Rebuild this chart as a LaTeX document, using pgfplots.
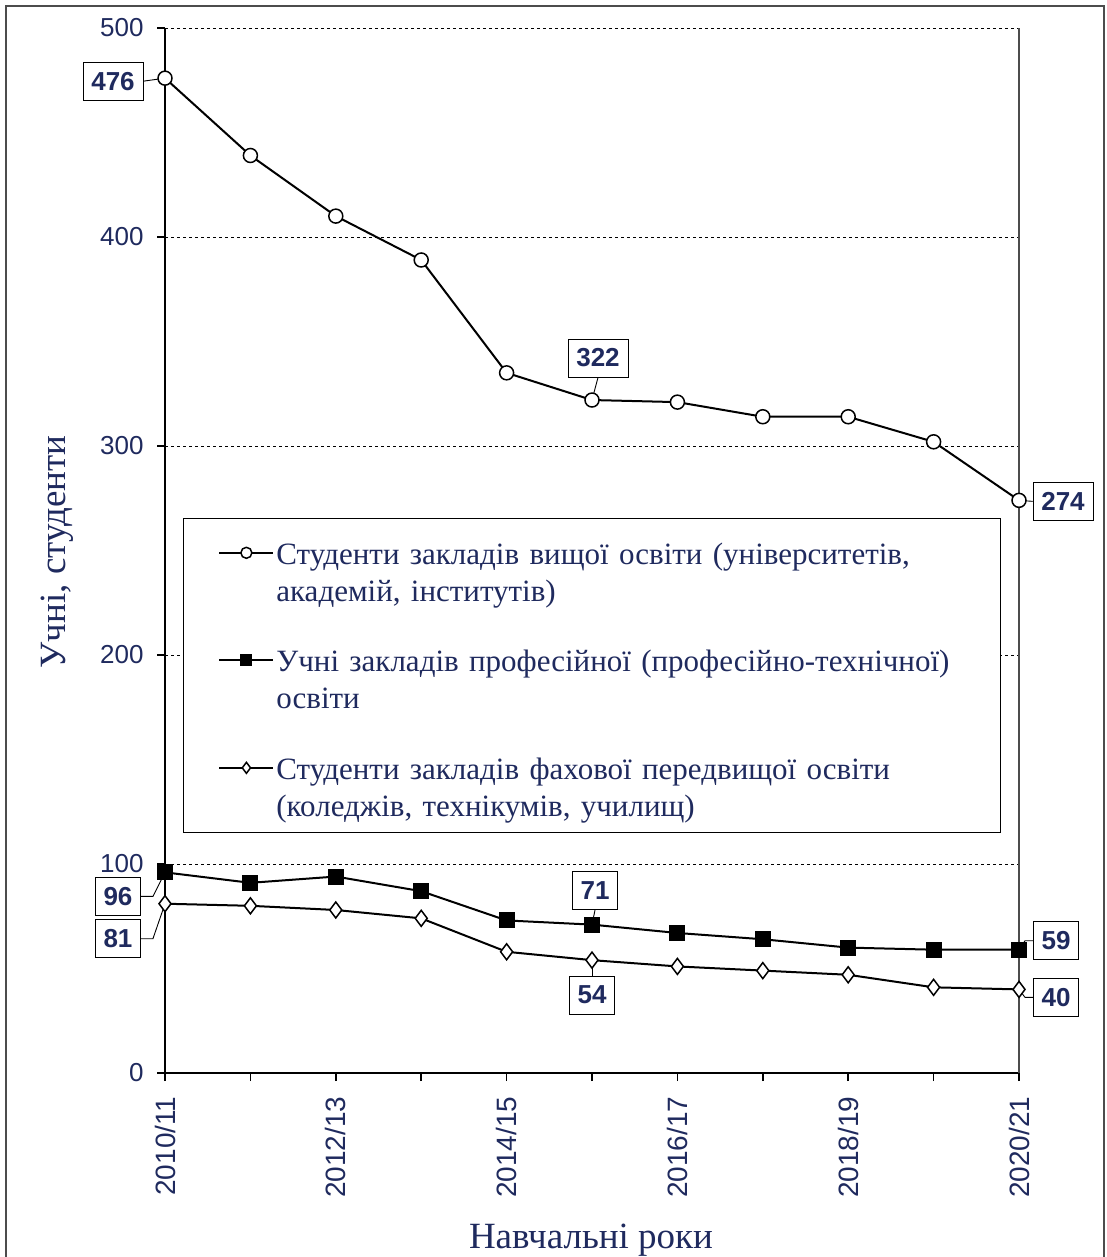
\documentclass[border=0pt]{standalone}
\usepackage{fontspec}
\setmainfont{Liberation Serif}
\newfontfamily\arial{Liberation Sans}
\usepackage{pgfplots}
\pgfplotsset{compat=1.18}
\definecolor{navy}{RGB}{31,42,94}
\tikzset{
  lbl/.style={draw=black, line width=0.9pt, fill=white, font=\arial\bfseries\fontsize{26}{30}\selectfont, text=navy, inner sep=0pt, minimum height=38pt},
  lbl3/.style={lbl, minimum width=60pt},
  lbl2/.style={lbl, minimum width=45pt},
  leader/.style={line width=0.9pt, black},
  legtext/.style={text width=687pt, align=left, text depth=29pt},
}
\begin{document}
\begin{tikzpicture}[x=1pt,y=1pt]
\useasboundingbox (0,0) rectangle (1107,-1257);
\clip (0,0) rectangle (1107,-1257);
\draw[black!70, line width=1.5pt] (6,-6) rectangle (1104,-1290);
\begin{axis}[
  at={(165pt,-1073pt)}, anchor=south west,
  scale only axis, width=854pt, height=1045pt,
  xmin=0, xmax=10, ymin=0, ymax=500,
  clip=false,
  axis x line=bottom, axis y line=left,
  axis line style={-, line width=2.6pt, black},
  xtick={0,1,...,10},
  xticklabels={2010/11,,2012/13,,2014/15,,2016/17,,2018/19,,2020/21},
  ytick={0,100,...,500},
  /pgf/number format/assume math mode=true,
  tick style={line width=1.6pt, black},
  tick align=outside, major tick length=8pt,
  ymajorgrids, grid style={dashed, line width=0.8pt, black},
  y tick label style={font=\arial\fontsize{26}{30}\selectfont, text=navy},
  x tick label style={font=\arial\fontsize{28}{32}\selectfont, text=navy, rotate=90, anchor=east},
  xticklabel shift=12pt, yticklabel shift=10pt,
  legend style={at={(rel axis cs:0.021,0.531)}, anchor=north west,
    draw=black, line width=0.9pt, fill=white,
    font=\fontsize{31}{37}\selectfont, text=navy,
    inner xsep=35pt, inner ysep=22pt, row sep=53pt},
  legend cell align=left,
  legend image code/.code={\draw[mark repeat=2,mark phase=2,#1] plot coordinates {(0pt,15pt)(27pt,15pt)(54pt,15pt)};},
  legend image post style={mark size=5.5pt},
]
\draw[black!70, line width=1.3pt] (rel axis cs:1,0) -- (rel axis cs:1,1);

\node[lbl3] (n476) at ([xshift=-52pt,yshift=-3pt]axis cs:0,476) {476};
\draw[leader] (n476.east) -- (axis cs:0,476);
\node[lbl3] (n322) at ([xshift=6pt,yshift=42pt]axis cs:5,322) {322};
\draw[leader] (n322.south) -- (axis cs:5,322);
\node[lbl3] (n274) at ([xshift=44pt,yshift=-1pt]axis cs:10,274) {274};
\draw[leader] (n274.west) -- (axis cs:10,274);
\node[lbl2] (n96) at ([xshift=-47pt,yshift=-24pt]axis cs:0,96) {96};
\draw[leader] (n96.east) -- ++(12pt,0) -- (axis cs:0,96);
\node[lbl2] (n81) at ([xshift=-47pt,yshift=-35pt]axis cs:0,81) {81};
\draw[leader] (n81.east) -- ++(12pt,0) -- (axis cs:0,81);
\node[lbl2] (n71) at ([xshift=3pt,yshift=34pt]axis cs:5,71) {71};
\draw[leader] (n71.south) -- (axis cs:5,71);
\node[lbl2] (n54) at ([xshift=0pt,yshift=-35pt]axis cs:5,54) {54};
\draw[leader] (n54.north) -- (axis cs:5,54);
\node[lbl2] (n59) at ([xshift=37pt,yshift=9pt]axis cs:10,59) {59};
\draw[leader] (n59.west) -- ++(-8pt,0) -- (axis cs:10,59);
\node[lbl2] (n40) at ([xshift=37pt,yshift=-8pt]axis cs:10,40) {40};
\draw[leader] (n40.west) -- ++(-8pt,0) -- (axis cs:10,40);

\addplot[black, line width=2pt, mark=*, mark size=7pt, mark options={fill=white, line width=1.5pt}]
 coordinates {(0,476)(1,439)(2,410)(3,389)(4,335)(5,322)(6,321)(7,314)(8,314)(9,302)(10,274)};
\addlegendentry[legtext]{Студенти закладів вищої освіти (університетів,\\академій, інститутів)}
\addplot[black, line width=2pt, mark=square*, mark size=7.5pt, mark options={fill=black, line width=1pt}]
 coordinates {(0,96)(1,91)(2,94)(3,87)(4,73)(5,71)(6,67)(7,64)(8,60)(9,59)(10,59)};
\addlegendentry[legtext]{Учні закладів професійної (професійно-технічної)\\освіти}
\addplot[black, line width=2pt, mark=diamond*, mark size=8pt, mark options={fill=white, line width=1.5pt}]
 coordinates {(0,81)(1,80)(2,78)(3,74)(4,58)(5,54)(6,51)(7,49)(8,47)(9,41)(10,40)};
\addlegendentry[legtext]{Студенти закладів фахової передвищої освіти\\(коледжів, технікумів, училищ)}
\end{axis}
\node[rotate=90, text=navy, font=\fontsize{37}{44}\selectfont] at (57,-552) {Учні, студенти};
\node[text=navy, font=\fontsize{37}{44}\selectfont] at (591,-1240) {Навчальні роки};
\end{tikzpicture}
\end{document}
